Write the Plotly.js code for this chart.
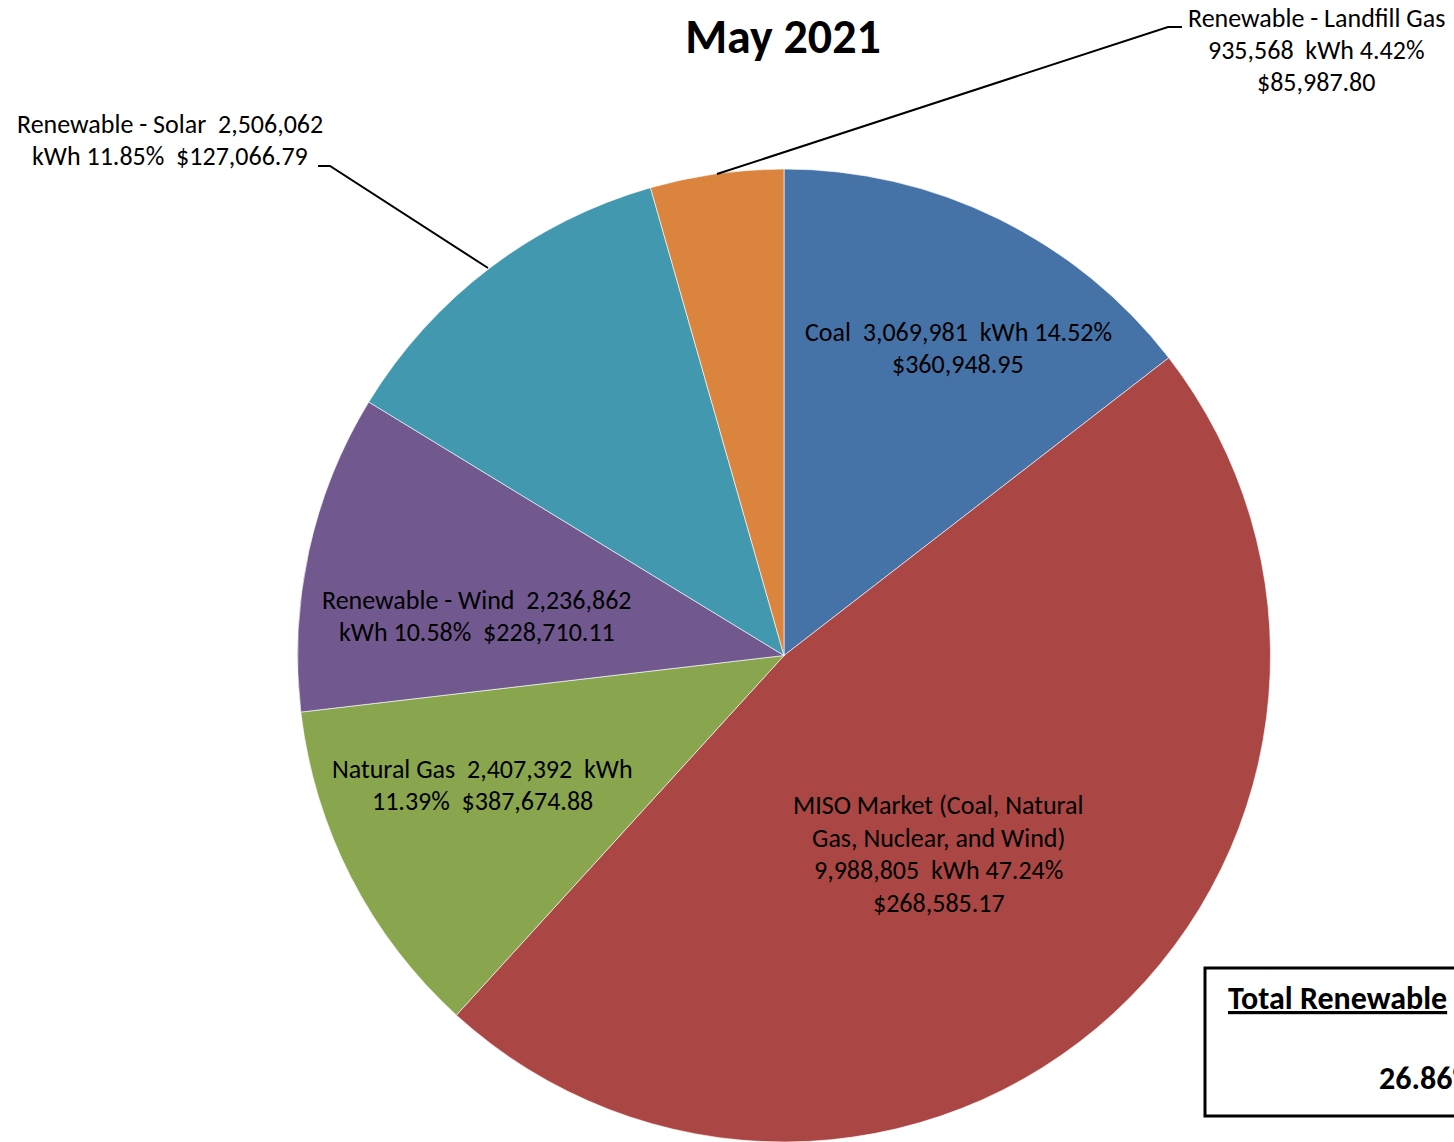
<!DOCTYPE html>
<html>
<head>
<meta charset="utf-8">
<script src="https://cdn.plot.ly/plotly-3.0.1.min.js"></script>
<style>html,body{margin:0;padding:0;background:#fff;overflow:hidden;}</style>
</head>
<body>
<div id="chart" style="width:1454px;height:1142px;"></div>
<script>
// ---- data ----
const sourceNames = ["Coal", "MISO Market (Coal, Natural Gas, Nuclear, and Wind)", "Natural Gas",
  "Renewable - Wind", "Renewable - Solar", "Renewable - Landfill Gas"];
const kwhValues = [3069981, 9988805, 2407392, 2236862, 2506062, 935568];
const costValues = [360948.95, 268585.17, 387674.88, 228710.11, 127066.79, 85987.80];
const isRenewable = [false, false, false, true, true, true];
const sliceColors = ["#4572A7", "#AA4643", "#89A54E", "#71588F", "#4198AF", "#DB843D"];
const chartTitle = "May 2021";
const boxTitle = "Total Renewable";

// ---- layout config (text placement, px) ----
const W = 1454, H = 1142;
const wrapCounts = [[4,1],[4,4,3,1],[4,2],[4,3],[4,3],[4,3,1]];
const labelPos = [[958,348],[939,854],[483,785],[477,616],[170,140],[1316,50]];
const FONT = "Carlito, Lato, sans-serif";
const LABEL_SIZE = 26;
const LINE_H = 32.5;

const total = kwhValues.reduce((a,b)=>a+b,0);
const fmtInt = v => v.toLocaleString("en-US");
const fmtCost = v => "$" + v.toLocaleString("en-US",{minimumFractionDigits:2,maximumFractionDigits:2});
const pcts = kwhValues.map(v => (v/total*100).toFixed(2) + "%");
const renewPct = (kwhValues.reduce((a,v,i)=>a+(isRenewable[i]?v:0),0)/total*100).toFixed(2) + "%";

// tokens; a trailing "\u00A0" marks the double spacing used in the original labels
function labelLines(i){
  const nameWords = sourceNames[i].split(" ");
  nameWords[nameWords.length-1] += "\u00A0";
  const words = nameWords.concat([fmtInt(kwhValues[i]) + "\u00A0", "kWh", pcts[i] + "\u00A0", fmtCost(costValues[i])]);
  const lines = []; let k = 0;
  wrapCounts[i].forEach(c => {
    lines.push(words.slice(k,k+c).join(" ").replace(/\u00A0$/,""));
    k += c;
  });
  return lines;
}

const px = x => x / W, py = y => 1 - y / H;

const annotations = [];
sourceNames.forEach((n,i) => {
  const lines = labelLines(i);
  lines.forEach((t,j) => {
    annotations.push({
      x: px(labelPos[i][0]), y: py(labelPos[i][1] + (j - (lines.length-1)/2) * LINE_H),
      xref:"paper", yref:"paper", text: t, showarrow:false, xanchor:"center", yanchor:"middle",
      font:{family:FONT, size:LABEL_SIZE, color:"#000"}
    });
  });
});
annotations.push({x: px(1226), y: py(998), xref:"paper", yref:"paper", text:"<b><u>"+boxTitle+"</u></b>",
  showarrow:false, xanchor:"left", yanchor:"middle", font:{family:FONT, size:32, color:"#000"}});
annotations.push({x: px(1377), y: py(1078), xref:"paper", yref:"paper", text:"<b>"+renewPct+"</b>",
  showarrow:false, xanchor:"left", yanchor:"middle", font:{family:FONT, size:32, color:"#000"}});

const shapes = [
  {type:"path", xref:"paper", yref:"paper",
   path:`M ${px(717)} ${py(174)} L ${px(1168)} ${py(27)} L ${px(1182)} ${py(27)}`,
   line:{color:"#000", width:2}},
  {type:"path", xref:"paper", yref:"paper",
   path:`M ${px(488)} ${py(268)} L ${px(330)} ${py(166)} L ${px(318)} ${py(166)}`,
   line:{color:"#000", width:2}},
  {type:"rect", xref:"paper", yref:"paper", x0:px(1205), x1:px(1560), y0:py(968), y1:py(1116),
   line:{color:"#000", width:3}, fillcolor:"rgba(0,0,0,0)"}
];

const trace = {
  type:"pie", values:kwhValues, labels:sourceNames, sort:false, direction:"clockwise", rotation:0,
  marker:{colors:sliceColors, line:{color:"rgba(255,255,255,0.6)", width:1}},
  textinfo:"none", hoverinfo:"none", showlegend:false,
  domain:{x:[297.5/W, 1270.5/W], y:[0, (H-169)/H]}
};

const layout = {
  width:W, height:H, margin:{l:0,r:0,t:0,b:0}, paper_bgcolor:"#fff",
  title:{text:"<b>"+chartTitle+"</b>", x:783/W, xanchor:"center", y:py(36), yanchor:"middle",
    font:{family:FONT, size:48, color:"#000"}},
  annotations, shapes, showlegend:false
};

Plotly.newPlot("chart", [trace], layout, {staticPlot:true, displayModeBar:false});
</script>
</body>
</html>
